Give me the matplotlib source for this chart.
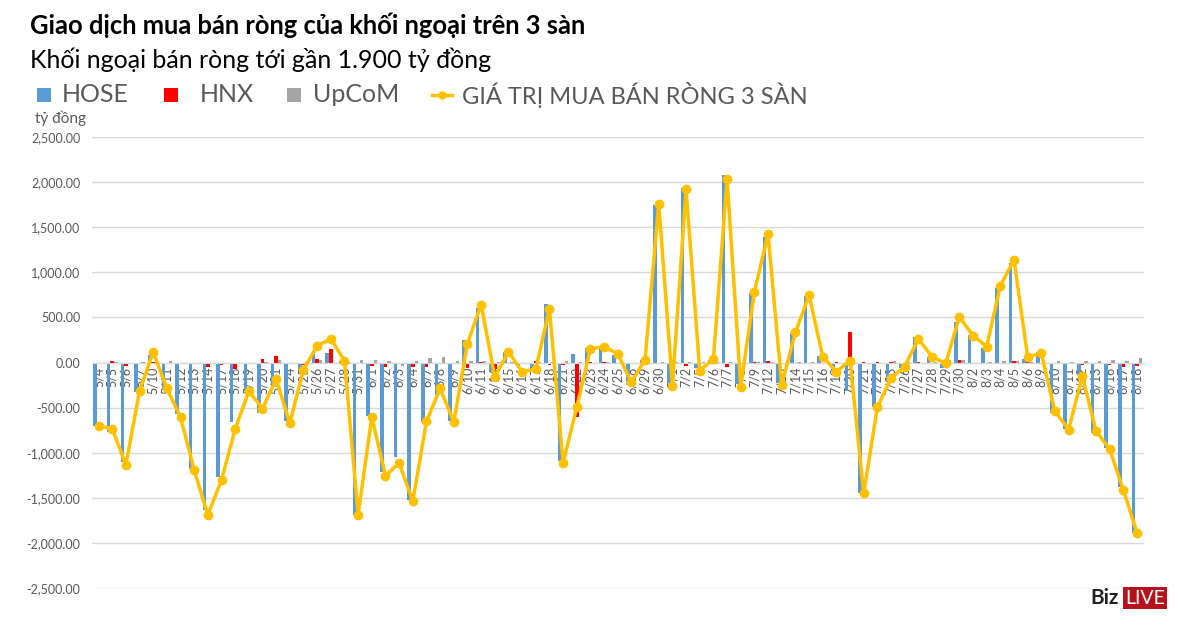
import matplotlib
matplotlib.use("Agg")
import matplotlib.pyplot as plt
import numpy as np
from matplotlib.patches import Rectangle
from matplotlib.lines import Line2D

dates = ["5/4","5/5","5/6","5/7","5/10","5/11","5/12","5/13","5/14","5/17","5/18","5/19","5/20","5/21",
         "5/24","5/25","5/26","5/27","5/28","5/31","6/1","6/2","6/3","6/4","6/7","6/8","6/9","6/10","6/11",
         "6/14","6/15","6/16","6/17","6/18","6/21","6/22","6/23","6/24","6/25","6/28","6/29","6/30","7/1",
         "7/2","7/5","7/6","7/7","7/8","7/9","7/12","7/13","7/14","7/15","7/16","7/19","7/20","7/21","7/22",
         "7/23","7/26","7/27","7/28","7/29","7/30","8/2","8/3","8/4","8/5","8/6","8/9","8/10","8/11","8/12",
         "8/13","8/16","8/17","8/18"]

hose = [-700,-770,-1105,-330,85,-300,-575,-1180,-1635,-1270,-660,-315,-560,-290,
        -645,-80,115,105,20,-1695,-598,-1218,-1052,-1520,-664,-358,-653,251,609,
        -81,111,-66,-74,646,-1096,96,162,162,81,-214,26,1751,-225,
        1932,-66,33,2077,-240,776,1393,-222,329,735,74,-92,-321,-1446,-498,
        -192,-63,288,66,-63,450,303,162,831,1108,44,111,-565,-739,-137,
        -780,-953,-1382,-1892]

hnx = [-20,15,-40,-5,10,-15,-10,-5,-48,-30,-77,-10,44,74,
       -5,-33,37,155,-3,-20,-35,-55,-20,-45,-45,-3,-20,-63,5,
       -75,-5,-20,20,-30,-30,-605,8,3,-5,-5,5,-3,-5,
       -37,-20,5,-55,-15,5,20,-15,-3,-3,-3,10,343,5,3,
       10,-5,5,-15,25,30,-3,-3,-10,15,5,-10,-5,-20,-25,
       -10,-30,-55,-40]

upcom = [-5,5,-5,10,10,15,-15,-5,-5,-3,-3,-3,3,30,
         -10,10,30,-5,5,30,25,15,-44,20,48,66,15,20,15,
         5,5,-15,5,5,15,5,-20,5,-5,-5,5,5,5,
         10,5,5,5,-10,3,3,-5,3,5,-3,-10,5,-5,-3,
         15,5,-15,5,25,25,-3,5,15,15,3,-5,20,10,20,
         20,25,20,45]

total = [-703,-732,-1133,-316,118,-287,-607,-1192,-1689,-1303,-736,-320,-510,-185,
         -672,-80,185,262,18,-1686,-605,-1255,-1114,-1539,-653,-288,-660,210,642,
         -162,118,-103,-74,594,-1114,-494,151,177,96,-220,33,1759,-255,
         1921,-90,38,2036,-270,783,1423,-245,333,746,66,-103,22,-1450,-498,
         -173,-45,262,63,-10,505,299,177,850,1138,63,100,-543,-743,-150,
         -757,-961,-1411,-1887]

yticks = [2500,2000,1500,1000,500,0,-500,-1000,-1500,-2000,-2500]

title = "Giao dịch mua bán ròng của khối ngoại trên 3 sàn"
subtitle = "Khối ngoại bán ròng tới gần 1.900 tỷ đồng"
series_names = ["HOSE", "HNX", "UpCoM", "GIÁ TRỊ MUA BÁN RÒNG 3 SÀN"]
unit = "tỷ đồng"

C_HOSE = "#5B9BD5"
C_HNX = "#FF0000"
C_UP = "#A5A5A5"
C_LINE = "#FFC000"
GRID = "#D9D9D9"
TXT = "#595959"

plt.rcParams['font.family'] = ['Lato', 'DejaVu Sans']

W, H = 1200, 622
fig = plt.figure(figsize=(W/100, H/100), dpi=100)
ax = fig.add_axes([91.7/W, 1-588/H, (1143.8-91.7)/W, (588-137)/H])

x = np.arange(len(dates))
bw = 0.26
ax.bar(x - bw, hose, width=bw, color=C_HOSE, zorder=2)
ax.bar(x, hnx, width=bw, color=C_HNX, zorder=2)
ax.bar(x + bw, upcom, width=bw, color=C_UP, zorder=2)
ax.plot(x, total, color=C_LINE, lw=2.5, marker='o', ms=6, zorder=4)

for s in ['top', 'right', 'left']:
    ax.spines[s].set_visible(False)
ax.spines['bottom'].set_position(('data', 0))
ax.spines['bottom'].set_color(GRID)

ax.set_xlim(-0.5, len(dates) - 0.5)
ax.set_ylim(-2500, 2500)
ax.set_yticks(yticks)
ax.set_yticklabels([f"{v:,.2f}" for v in yticks], color=TXT, fontsize=9)
ax.yaxis.grid(True, color=GRID, lw=1, zorder=0)
ax.set_axisbelow(True)
ax.tick_params(axis='y', length=0, pad=8)

ax.set_xticks(x)
ax.set_xticklabels(dates, rotation=90, color=TXT, fontsize=9, va='top', ha='center')
ax.tick_params(axis='x', length=0, pad=3)

# Titles
fig.text(30/W, 1-25/H, title, fontsize=18.4, fontweight='bold', color='black', va='center', ha='left')
fig.text(30/W, 1-60/H, subtitle, fontsize=18, color='black', va='center', ha='left')

# Legend (manual)
ly = 1-95/H
sq = 14
def square(xpx, color):
    fig.patches.append(Rectangle((xpx/W, ly - sq/2/H), sq/W, sq/H, transform=fig.transFigure,
                                 facecolor=color, edgecolor='none'))
square(37, C_HOSE)
fig.text(62/W, ly, series_names[0], fontsize=18, color=TXT, va='center', ha='left')
square(164, C_HNX)
fig.text(200/W, ly, series_names[1], fontsize=18, color=TXT, va='center', ha='left')
square(287, C_UP)
fig.text(313/W, ly, series_names[2], fontsize=18, color=TXT, va='center', ha='left')
fig.lines.append(Line2D([432/W, 452/W], [ly, ly], transform=fig.transFigure, color=C_LINE, lw=2.5))
fig.lines.append(Line2D([442/W], [ly], transform=fig.transFigure, color=C_LINE, marker='o', ms=5))
fig.text(462/W, ly, series_names[3], fontsize=17, color=TXT, va='center', ha='left')

fig.text(35/W, 1-118/H, unit, fontsize=11, color=TXT, va='center', ha='left')

# Logo
fig.text(1090/W, 1-598/H, "Biz", fontsize=15, fontweight='bold', color='#231F20', va='center', ha='left')
fig.text(1125/W, 1-598/H, "LIVE", fontsize=14, color='white', va='center', ha='left',
         bbox=dict(boxstyle='square,pad=0.12', facecolor='#B5121B', edgecolor='none'))

fig.savefig("out.png", dpi=100)
